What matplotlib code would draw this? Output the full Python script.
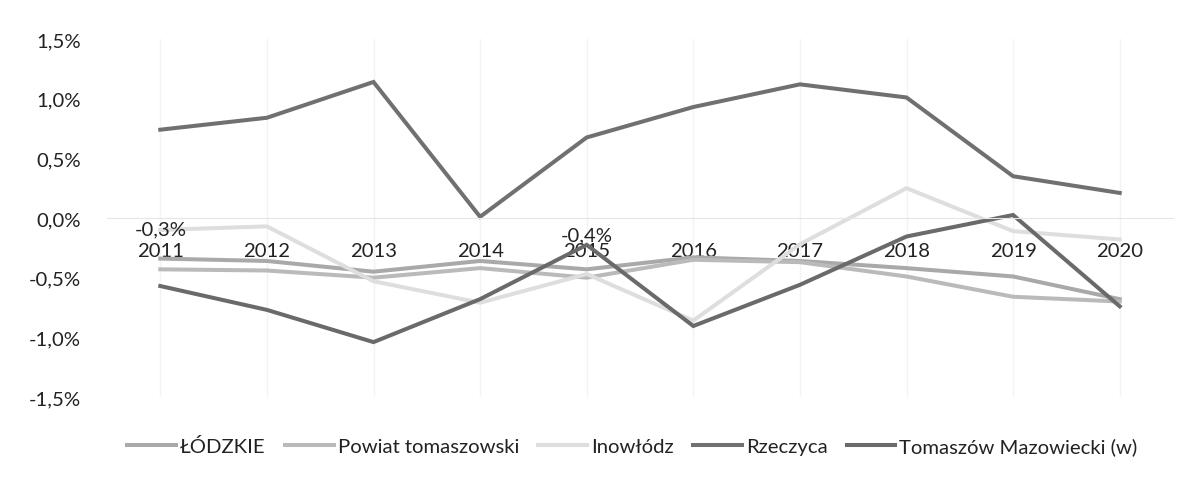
import matplotlib.pyplot as plt
from matplotlib.ticker import FuncFormatter

plt.rcParams['font.family'] = ['Lato', 'DejaVu Sans']

# ----- data (percent) -----
years = ["2011", "2012", "2013", "2014", "2015", "2016", "2017", "2018", "2019", "2020"]
lodzkie = [-0.34, -0.36, -0.45, -0.36, -0.43, -0.33, -0.36, -0.42, -0.49, -0.68]
powiat = [-0.43, -0.44, -0.50, -0.42, -0.50, -0.35, -0.37, -0.49, -0.66, -0.70]
inowlodz = [-0.10, -0.07, -0.53, -0.71, -0.47, -0.86, -0.22, 0.25, -0.11, -0.18]
rzeczyca = [0.74, 0.84, 1.14, 0.01, 0.675, 0.93, 1.12, 1.01, 0.35, 0.21]
tomaszow = [-0.57, -0.77, -1.04, -0.68, -0.225, -0.905, -0.56, -0.155, 0.025, -0.74]

series_names = ["ŁÓDZKIE", "Powiat tomaszowski", "Inowłódz", "Rzeczyca", "Tomaszów Mazowiecki (w)"]
colors = ["#a9a9a9", "#bababa", "#dedede", "#707070", "#6a6a6a"]

FS = 14.6

fig = plt.figure(figsize=(11.93, 4.81), dpi=100)
ax = fig.add_axes([107 / 1193, 83 / 481, 1066 / 1193, 358 / 481])

x = list(range(len(years)))
for vals, name, col in zip([lodzkie, powiat, inowlodz, rzeczyca, tomaszow], series_names, colors):
    ax.plot(x, vals, color=col, lw=2.9, label=name, solid_joinstyle='miter')

ax.set_xlim(-0.5, len(years) - 0.5)
ax.set_ylim(-1.5, 1.5)
ax.set_yticks([-1.5, -1.0, -0.5, 0.0, 0.5, 1.0, 1.5])
ax.yaxis.set_major_formatter(FuncFormatter(lambda v, p: f"{v:.1f}%".replace(".", ",")))
ax.set_xticks(x)
ax.set_xticklabels(years)

for s in ["top", "right", "left"]:
    ax.spines[s].set_visible(False)
ax.spines["bottom"].set_position(("data", 0))
ax.spines["bottom"].set_color("#e6e6e6")
ax.tick_params(axis="both", length=0, labelsize=FS, colors="#222222")
ax.tick_params(axis="x", pad=17)
ax.tick_params(axis="y", pad=19)
ax.grid(True, axis="x", color="#f3f3f3", lw=1)

# data labels
ax.text(0, -0.09, "-0,3%", ha="center", va="center", fontsize=FS, color="#222222")
ax.text(4, -0.14, "-0,4%", ha="center", va="center", fontsize=FS, color="#222222")

ax.legend(loc="upper center", bbox_to_anchor=(0.493, -0.06), ncol=5, frameon=False,
          fontsize=FS, handlelength=2.4, handletextpad=0.2, columnspacing=0.95,
          labelcolor="#222222")

fig.savefig("out.png", dpi=100)
